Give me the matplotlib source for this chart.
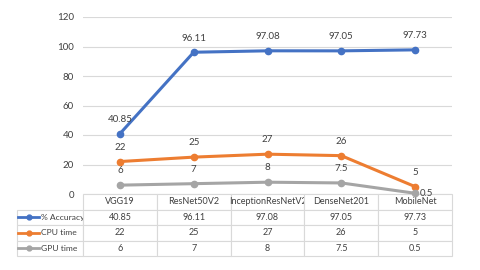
import matplotlib
matplotlib.use("Agg")
import matplotlib.pyplot as plt
from matplotlib.lines import Line2D

categories = ["VGG19", "ResNet50V2", "InceptionResNetV2", "DenseNet201", "MobileNet"]
series_names = ["% Accuracy", "CPU time", "GPU time"]
accuracy = [40.85, 96.11, 97.08, 97.05, 97.73]
cpu_time = [22, 25, 27, 26, 5]
gpu_time = [6, 7, 8, 7.5, 0.5]
label_text = {
    "% Accuracy": ["40.85", "96.11", "97.08", "97.05", "97.73"],
    "CPU time": ["22", "25", "27", "26", "5"],
    "GPU time": ["6", "7", "8", "7.5", "0.5"],
}
colors = ["#4472C4", "#ED7D31", "#A5A5A5"]
yticks = [0, 20, 40, 60, 80, 100, 120]

plt.rcParams['font.family'] = ['Lato', 'DejaVu Sans']
txt = "#404040"

fig = plt.figure(figsize=(4.8, 2.7), dpi=100)
W, H = 480, 270
x0, x1, yt, yb = 83, 452, 17, 194
ax = fig.add_axes([x0 / W, 1 - yb / H, (x1 - x0) / W, (yb - yt) / H])

xs = list(range(len(categories)))
data = [accuracy, cpu_time, gpu_time]
for name, vals, c in zip(series_names, data, colors):
    ax.plot(xs, vals, color=c, lw=2.2, marker='o', ms=4.5, zorder=3, clip_on=False)
    for i, (x, v) in enumerate(zip(xs, vals)):
        t = label_text[name][i]
        if name == "GPU time" and i == 4:
            ax.annotate(t, (x, v), xytext=(3, 0), textcoords='offset points',
                        ha='left', va='center', fontsize=7, color=txt)
        else:
            ax.annotate(t, (x, v), xytext=(0, 7), textcoords='offset points',
                        ha='center', va='bottom', fontsize=7, color=txt)

ax.set_xlim(-0.5, len(categories) - 0.5)
ax.set_ylim(0, 120)
ax.set_yticks(yticks)
ax.set_xticks([])
ax.tick_params(axis='y', length=0, labelsize=7, labelcolor=txt, pad=6.5)
ax.grid(axis='y', color='#D9D9D9', lw=0.8)
ax.set_axisbelow(True)
for s in ax.spines.values():
    s.set_visible(False)

cell_text = [[t for t in label_text[n]] for n in series_names]
ah = yb - yt
aw = x1 - x0
tl, tb = 17, 256
colw = aw / len(categories)
tab = ax.table(cellText=cell_text, rowLabels=series_names, colLabels=categories,
               cellLoc='center', rowLoc='left',
               colWidths=[colw / aw] * len(categories),
               bbox=[0, -(tb - yb) / ah, 1, (tb - yb) / ah])
tab._autoColumns = []
tab.auto_set_font_size(False)
for (r, c), cell in tab.get_celld().items():
    cell.set_edgecolor('#D9D9D9')
    cell.set_linewidth(0.8)
    cell.get_text().set_fontsize(6.5)
    cell.get_text().set_color(txt)
    if c == -1:
        cell.set_width((x0 - tl) / aw)
        cell.PAD = 0.37
        cell.get_text().set_fontsize(6.1)

# legend glyphs in row-label cells
row_h = (tb - yb) / 4
for i, c in enumerate(colors):
    yc = yb + row_h * (i + 1.5)
    yax = 1 - (yc - yt) / ah
    ax.add_line(Line2D([(tl + 1 - x0) / aw, (tl + 22 - x0) / aw], [yax, yax],
                       transform=ax.transAxes, color=c, lw=2.0, clip_on=False))
    ax.add_line(Line2D([(tl + 12 - x0) / aw], [yax], transform=ax.transAxes, color=c,
                       marker='o', ms=3.5, clip_on=False))

fig.savefig("out.png", dpi=100)
